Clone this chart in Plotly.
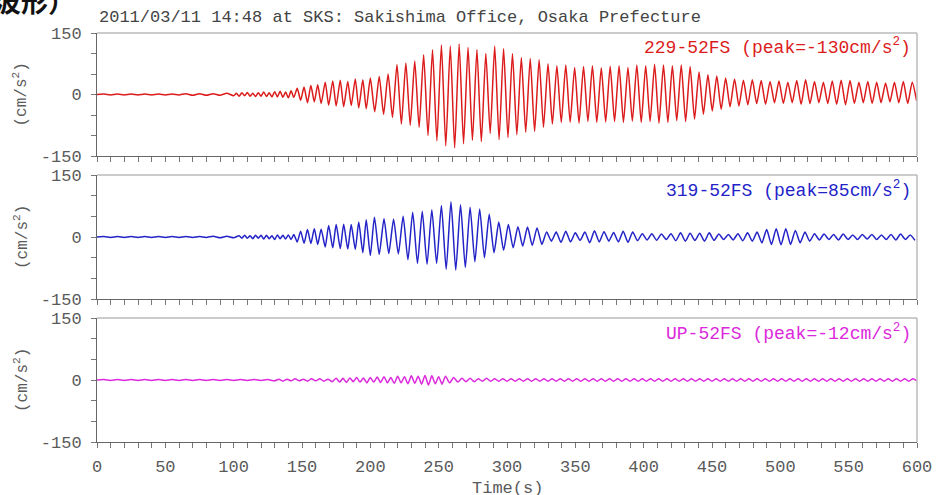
import plotly.graph_objects as go
from plotly.subplots import make_subplots

# ---- data: local extrema (time s, acceleration cm/s^2) ----
red_extrema = [
    (0, 0), (5, 1), (10, -1), (15, 1), (20, -1), (25, 1), (30, -1), (35, 1), (40, -1), (45, 1),
    (50, -1), (55, 1), (60, -1), (65, 2), (70, -2), (75, 2), (80, -2), (85, 2), (90, -2), (95, 3), (100, -3),
    (102, 3), (104, -4), (106, 4), (108, -3), (110, 5), (112, -4), (114, 3), (116, -5), (118, 4), (120, -4),
    (122, 6), (124, -5), (126, 4), (128, -6), (130, 7), (132, -6), (134, 8), (136, -7), (138, 6), (140, -8),
    (142, 9), (144, -7),
    (146.5, 15), (149, -14), (151.5, 18), (154, -20), (156.5, 22), (159, -18), (161.5, 24), (164, -22),
    (167, 30), (169.5, -26), (172.5, 33), (175, -28), (178, 35), (180.5, -30), (183.5, 32), (186, -27),
    (189, 38), (191.5, -33), (194.5, 36), (197, -35),
    (200, 40), (203.2, -42), (206.5, 44), (209.7, -48), (213, 50), (216.2, -56), (219.5, 73), (222.7, -72),
    (226, 77), (229.2, -75), (232.5, 82), (235.7, -80), (239, 97), (242.2, -100), (245.5, 109), (248.7, -113),
    (252, 121), (255.2, -125), (258.5, 118), (261.7, -130), (265, 123), (268.2, -120), (271.5, 115),
    (274.7, -112), (278, 109), (281.2, -115), (284.5, 100), (287.7, -95), (291, 118), (294.2, -110),
    (297.5, 112), (300.7, -105), (304, 100), (307.2, -98), (310.5, 90), (313.7, -92), (317, 88), (320.2, -90),
    (323.5, 85), (326.7, -80), (330, 75), (333.2, -72), (336.5, 70), (339.7, -68), (343, 72),
    (346.2, -68), (349.5, 66), (352.7, -70), (356, 68), (359.2, -66), (362.5, 70), (365.7, -68), (369, 65),
    (372.2, -67), (375.5, 69), (378.7, -66), (382, 70), (385.2, -68), (388.5, 66), (391.7, -65), (395, 72),
    (398.2, -68), (401.5, 70), (404.7, -66), (408, 74), (411.2, -70), (414.5, 72), (417.7, -68), (421, 70),
    (424.2, -64), (427.5, 72), (430.7, -66), (434, 68), (437.2, -60),
    (440.5, 55), (443.7, -48), (447, 48), (450.2, -40), (453.5, 45), (456.7, -36), (460, 40), (463.2, -30),
    (466.5, 38), (469.7, -28), (473, 35), (476.2, -25), (479.5, 36), (482.7, -22), (486, 34), (489.2, -24),
    (492.5, 32), (495.7, -20), (499, 33), (502.2, -22), (505.5, 30), (508.7, -20), (512, 34), (515.2, -24),
    (518.5, 36), (521.7, -22), (525, 32), (528.2, -20), (531.5, 30), (534.7, -22), (538, 33), (541.2, -24),
    (544.5, 35), (547.7, -25), (551, 34), (554.2, -22), (557.5, 30), (560.7, -20), (564, 32), (567.2, -22),
    (570.5, 30), (573.7, -20), (577, 28), (580.2, -18), (583.5, 30), (586.7, -20), (590, 32), (593.2, -22),
    (596.5, 30), (599.7, -15),
]

blue_extrema = [
    (0, 0), (5, 1), (10, -1), (15, 1), (20, -1), (25, 1), (30, -1), (35, 1), (40, -1), (45, 1),
    (50, -1), (55, 1), (60, -1), (65, 1), (70, -1), (75, 1), (80, -1), (85, 2), (90, -2), (95, 2), (100, -2),
    (104, 3), (106, -3), (108, 4), (110, -3), (112, 3), (114, -4), (116, 4), (118, -3), (120, 4), (122, -5),
    (124, 4), (126, -4), (128, 3), (130, -6), (132, 5), (134, -4), (136, 4), (138, -5), (140, 5), (142, -6),
    (144, 6),
    (146.5, -12), (149, 14), (151.5, -15), (154, 18), (156.5, -16), (159, 20), (161.5, -18), (164, 19),
    (167, -24), (169.5, 28), (172.5, -26), (175, 30), (178, -28), (180.5, 31), (183.5, -29), (186, 30),
    (189, -30), (191.5, 36), (194.5, -38), (197, 42), (200, -45), (203, 48),
    (206.5, -42), (210, 44), (213.5, -40), (217, 43), (220.5, -41), (224, 50),
    (227.5, -55), (231, 60), (234.5, -64), (238, 62), (241.5, -66), (245, 66), (248.5, -64),
    (252, 76), (255.5, -78), (259, 85), (262.5, -80), (266, 78), (269.5, -74), (273, 72),
    (276.5, -60), (280, 68), (283.5, -50), (287, 55), (290.5, -38), (294, 36), (297.5, -32), (301, 30),
    (304.5, -26), (308, 25), (311.5, -22), (315, 24), (318.5, -20), (322, 22), (325.5, -18),
    (329, 12), (332.5, -10), (336, 12), (339.5, -13), (343, 14), (346.5, -12), (350, 10), (353.5, -8),
    (357, 12), (360.5, -14), (364, 15), (367.5, -12), (371, 13), (374.5, -10), (378, 11), (381.5, -12),
    (385, 14), (388.5, -13), (392, 12), (395.5, -9), (399, 8), (402.5, -7), (406, 8), (409.5, -8),
    (413, 7), (416.5, -6), (420, 8), (423.5, -9), (427, 10), (430.5, -10), (434, 9), (437.5, -8),
    (441, 9), (444.5, -10), (448, 10), (451.5, -8), (455, 7), (458.5, -6), (462, 6), (465.5, -7),
    (469, 8), (472.5, -9), (476, 10), (479.5, -10), (483, 12), (486.5, -14), (490, 18), (493.5, -18),
    (497, 20), (500.5, -19), (504, 20), (507.5, -18), (511, 16), (514.5, -14), (518, 12), (521.5, -10),
    (525, 8), (528.5, -7), (532, 7), (535.5, -6), (539, 6), (542.5, -7), (546, 7), (549.5, -6),
    (553, 5), (556.5, -6), (560, 6), (563.5, -5), (567, 6), (570.5, -6), (574, 5), (577.5, -6),
    (581, 6), (584.5, -7), (588, 7), (591.5, -6), (595, 5), (598.5, -8),
]

magenta_extrema = [
    (0, 0), (5, 1), (10, -1), (15, 1), (20, -1), (25, 1), (30, -1), (35, 1), (40, -1), (45, 1),
    (50, -1), (55, 1), (60, -1), (65, 1), (70, -1), (75, 1), (80, -1), (85, 1), (90, -1), (95, 1), (100, -1),
    (105, 1), (110, -1), (115, 1), (120, -1), (125, 1), (130, -2), (133, 2), (136, -3), (139, 2), (142, -2),
    (145, 3), (148, -2), (151, 2), (154, -3), (157, 3), (160, -2), (163, 3), (166, -3), (169, 2), (172, -4),
    (175, 4), (177.5, -5), (180, 4), (182.5, -6), (185, 5), (187.5, -4), (190, 6), (192.5, -5), (195, 5),
    (197.5, -7), (200, 6), (202.5, -5), (205, 7), (207.5, -6), (210, 8), (212.5, -7), (215, 6), (217.5, -8),
    (220, 9), (222.5, -7), (225, 8), (227.5, -9), (230, 10), (232.5, -8), (235, 9), (237.5, -10), (240, 11),
    (242.5, -12), (245, 10), (247.5, -9), (250, 8), (252.5, -10), (255, 9), (258, -7), (261, 6),
    (264, -5), (267, 4), (270, -4), (273, 4), (276, -4), (279, 3), (282, -3), (285, 4), (288, -3),
    (291, 3), (294, -3), (297, 3), (300, -3), (303, 3), (306, -3), (309, 3), (312, -3), (315, 3),
    (318, -3), (321, 3), (324, -3), (327, 3), (330, -3), (333, 3), (336, -3), (339, 3), (342, -3),
    (345, 3), (348, -3), (351, 3), (354, -3), (357, 3), (360, -3), (363, 3), (366, -3), (369, 3),
    (372, -3), (375, 3), (378, -3), (381, 3), (384, -3), (387, 3), (390, -3), (393, 3), (396, -3),
    (399, 3), (402, -3), (405, 3), (408, -3), (411, 3), (414, -3), (417, 3), (420, -3), (423, 3),
    (426, -3), (429, 3), (432, -3), (435, 3), (438, -3), (441, 3), (444, -3), (447, 3), (450, -3),
    (453, 3), (456, -3), (459, 3), (462, -3), (465, 3), (468, -3), (471, 3), (474, -3), (477, 3),
    (480, -3), (483, 3), (486, -3), (489, 3), (492, -3), (495, 3), (498, -3), (501, 3), (504, -3),
    (507, 3), (510, -3), (513, 3), (516, -3), (519, 3), (522, -3), (525, 3), (528, -3), (531, 3),
    (534, -3), (537, 3), (540, -3), (543, 3), (546, -3), (549, 3), (552, -3), (555, 3), (558, -3),
    (561, 3), (564, -3), (567, 3), (570, -3), (573, 3), (576, -3), (579, 3), (582, -3), (585, 3),
    (588, -3), (591, 3), (594, -3), (597, 3), (600, -2),
]

series_names = ["229-52FS", "319-52FS", "UP-52FS"]
series_peaks = ["-130", "85", "-12"]
series_colors = ["#dc1c1c", "#2323c8", "#dc28dc"]
title_text = "2011/03/11 14:48 at SKS: Sakishima Office, Osaka Prefecture"
x_tick_vals = list(range(0, 601, 10))
x_tick_text = [str(v) if v % 50 == 0 else "" for v in x_tick_vals]
y_tick_vals = [-150, -100, -50, 0, 50, 100, 150]
y_tick_text = ["-150", "", "", "0", "", "", "150"]

# ---- figure ----
W, H = 936, 495
L, R, T, B = 97, 19, 33, 53
plot_h = H - T - B

def py(p):  # pixel y -> paper y
    return (H - B - p) / plot_h

def px(p):  # pixel x -> paper x
    return (p - L) / (W - L - R)

fig = make_subplots(rows=3, cols=1, shared_xaxes=False)
domains = [(py(156), 1.0), (py(299), py(175)), (0.0, py(318))]

all_data = [red_extrema, blue_extrema, magenta_extrema]
font_main = "Liberation Mono"
tick_font = dict(family=font_main, size=17, color="#5a5a5a")
for i, ext in enumerate(all_data):
    t = [p[0] for p in ext]
    v = [p[1] for p in ext]
    fig.add_trace(go.Scatter(x=t, y=v, mode="lines",
                             line=dict(color=series_colors[i], width=1.5, shape="spline", smoothing=0.6),
                             showlegend=False, hoverinfo="skip"), row=i + 1, col=1)
    xa = "xaxis" if i == 0 else f"xaxis{i+1}"
    ya = "yaxis" if i == 0 else f"yaxis{i+1}"
    fig.layout[xa].update(range=[0, 600], tickvals=x_tick_vals, ticktext=x_tick_text,
                          showticklabels=(i == 2), ticks="outside", ticklen=5, tickcolor="#777",
                          showline=True, linecolor="#666", linewidth=1, showgrid=False, zeroline=False,
                          tickfont=tick_font, ticklabelstandoff=4, automargin=False)
    fig.layout[ya].update(range=[-150, 150], domain=list(domains[i]), tickvals=y_tick_vals,
                          ticktext=y_tick_text, ticks="outside", ticklen=5, tickcolor="#777",
                          showline=True, linecolor="#666", linewidth=1, showgrid=False, zeroline=False,
                          tickfont=tick_font, ticklabelstandoff=6, automargin=False)
    xref = "x" if i == 0 else f"x{i+1}"
    yref = "y" if i == 0 else f"y{i+1}"
    # light top/right frame
    fig.add_shape(type="line", xref=f"{xref} domain", yref=f"{yref} domain", x0=0, x1=1, y0=1, y1=1,
                  line=dict(color="#bbb", width=1.5))
    fig.add_shape(type="line", xref=f"{xref} domain", yref=f"{yref} domain", x0=1, x1=1, y0=0, y1=1,
                  line=dict(color="#bbb", width=1.5))
    # series label
    fig.add_annotation(xref=f"{xref} domain", yref=f"{yref} domain", x=px(913), y=1 - 14 / 123,
                       xanchor="right", yanchor="middle", showarrow=False,
                       text=f"{series_names[i]} (peak={series_peaks[i]}cm/s<sup>2</sup>)",
                       font=dict(family=font_main, size=18, color=series_colors[i]))
    # y axis label
    fig.add_annotation(xref="paper", yref=f"{yref} domain", x=px(21), y=0.5, textangle=-90,
                       xanchor="center", yanchor="middle", showarrow=False,
                       text="(cm/s<sup>2</sup>)", font=dict(family=font_main, size=16, color="#5a5a5a"))

fig.add_annotation(xref="paper", yref="paper", x=0, y=py(17), xanchor="left", yanchor="middle",
                   showarrow=False, text=title_text, font=dict(family=font_main, size=17, color="#444"))
fig.add_annotation(xref="paper", yref="paper", x=0.5, y=py(488), xanchor="center", yanchor="middle",
                   showarrow=False, text="Time(s)", font=dict(family=font_main, size=17, color="#5a5a5a"))
fig.add_annotation(xref="paper", yref="paper", x=px(-8), y=py(0), xanchor="left", yanchor="middle",
                   showarrow=False, text="<b>波形）</b>",
                   font=dict(family="Noto Sans CJK JP", size=27, color="#111"))

fig.update_layout(width=W, height=H, margin=dict(l=L, r=R, t=T, b=B, autoexpand=False),
                  plot_bgcolor="white", paper_bgcolor="white")
fig.write_html("out.html", config={"displayModeBar": False},
               post_script="document.body.style.margin='0';")
